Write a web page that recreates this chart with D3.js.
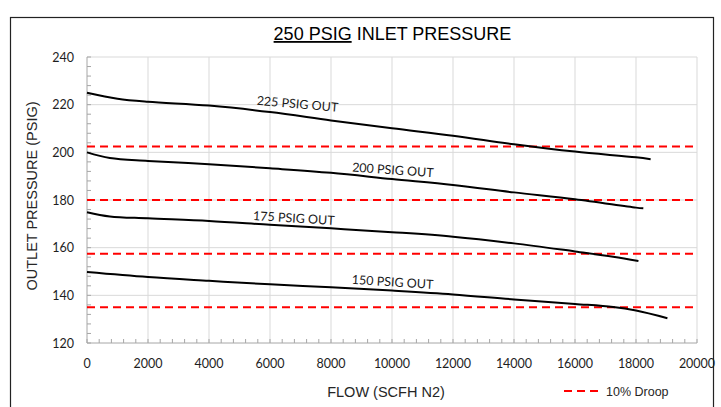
<!DOCTYPE html>
<html><head><meta charset="utf-8">
<script src="https://cdn.jsdelivr.net/npm/d3@7"></script>
<style>body{margin:0;background:#fff}svg{display:block}</style></head>
<body><svg id="c" width="721" height="407"></svg>
<script>
// ---- data ----
const flow225 = [0, 1000, 2000, 4000, 6000, 8000, 10000, 12000, 14000, 16000, 18000, 18480];
const out225  = [225, 222.5, 221.2, 219.6, 216.9, 213.4, 210.1, 207.0, 203.4, 200.3, 197.9, 197.1];
const flow200 = [0, 750, 2000, 4000, 6000, 8000, 10000, 12000, 14000, 16000, 18000, 18240];
const out200  = [200, 197.6, 196.4, 195.0, 193.3, 191.4, 188.8, 186.3, 183.2, 180.3, 176.8, 176.5];
const flow175 = [0, 750, 2000, 4000, 6000, 8000, 10000, 12000, 14000, 16000, 17250, 18080];
const out175  = [174.9, 173.1, 172.3, 171.2, 169.6, 168.1, 166.5, 164.6, 161.8, 158.4, 156.2, 154.4];
const flow150 = [0, 2000, 4000, 6000, 8000, 10000, 12000, 14000, 16000, 17250, 18000, 19030];
const out150  = [149.8, 147.7, 146.1, 144.6, 143.4, 142.0, 140.4, 138.3, 136.4, 135.1, 133.6, 130.4];
const seriesNames = ["225 PSIG OUT", "200 PSIG OUT", "175 PSIG OUT", "150 PSIG OUT"];
const droopLevels = [202.5, 180, 157.5, 135];
const labelFlow  = [6900, 10030, 6780, 10020];
const labelPress = [220.3, 192.6, 172.4, 145.6];
const labelAngle = [5, 4, 3.5, 3.5];
const xTicks = [0, 2000, 4000, 6000, 8000, 10000, 12000, 14000, 16000, 18000, 20000];
const yTicks = [120, 140, 160, 180, 200, 220, 240];
const titleUnderlined = "250 PSIG";
const titleRest = " INLET PRESSURE";
const xTitle = "FLOW (SCFH N2)";
const yTitle = "OUTLET PRESSURE (PSIG)";
const legendLabel = "10% Droop";

// ---- layout ----
const svg = d3.select("#c");
const L = 87, R = 697, T = 57, B = 343;
const x = d3.scaleLinear().domain([0, 20000]).range([L, R]);
const y = d3.scaleLinear().domain([120, 240]).range([B, T]);
const tickFont = "Lato, 'Open Sans', sans-serif";
const titleFont = "'Liberation Sans', Arial, sans-serif";

// outer border
svg.append("rect").attr("x", 10.5).attr("y", 17.5).attr("width", 703).attr("height", 420)
  .attr("fill", "none").attr("stroke", "#222").attr("stroke-width", 1.2);

// gridlines
const g = svg.append("g");
g.selectAll(".vg").data(xTicks.slice(1)).join("line")
  .attr("x1", d => x(d)).attr("x2", d => x(d)).attr("y1", T).attr("y2", B)
  .attr("stroke", "#d9d9d9").attr("stroke-width", 1);
g.selectAll(".hg").data(yTicks.slice(1)).join("line")
  .attr("x1", L).attr("x2", R).attr("y1", d => y(d)).attr("y2", d => y(d))
  .attr("stroke", "#d9d9d9").attr("stroke-width", 1);

// minor ticks
const xMinor = d3.range(0, 20001, 400);
const yMinor = d3.range(120, 241, 4);
g.selectAll(".xm").data(xMinor).join("line")
  .attr("x1", d => x(d)).attr("x2", d => x(d)).attr("y1", B).attr("y2", B - 4)
  .attr("stroke", "#a6a6a6");
g.selectAll(".ym").data(yMinor).join("line")
  .attr("x1", L).attr("x2", L + 4).attr("y1", d => y(d)).attr("y2", d => y(d))
  .attr("stroke", "#a6a6a6");

// axes lines
svg.append("line").attr("x1", L).attr("x2", R).attr("y1", B).attr("y2", B).attr("stroke", "#a6a6a6");
svg.append("line").attr("x1", L).attr("x2", L).attr("y1", T).attr("y2", B).attr("stroke", "#a6a6a6");

// tick labels
svg.selectAll(".xl").data(xTicks).join("text")
  .attr("x", d => x(d)).attr("y", 368).attr("text-anchor", "middle")
  .attr("font-family", tickFont).attr("font-size", 12.5).attr("fill", "#1e1e1e")
  .text(d => d);
svg.selectAll(".yl").data(yTicks).join("text")
  .attr("x", 74).attr("y", d => y(d) + 4.5).attr("text-anchor", "end")
  .attr("font-family", tickFont).attr("font-size", 12.5).attr("fill", "#1e1e1e")
  .text(d => d);

// droop lines
svg.selectAll(".dr").data(droopLevels).join("line")
  .attr("x1", x(0)).attr("x2", x(20000)).attr("y1", d => y(d)).attr("y2", d => y(d))
  .attr("stroke", "#ff0000").attr("stroke-width", 2).attr("stroke-dasharray", "8,5");

// curves
const flows = [flow225, flow200, flow175, flow150];
const outs = [out225, out200, out175, out150];
const line = d3.line().x(d => x(d[0])).y(d => y(d[1])).curve(d3.curveCatmullRom.alpha(0.5));
flows.forEach((f, i) => {
  svg.append("path").datum(f.map((v, j) => [v, outs[i][j]]))
    .attr("d", line).attr("fill", "none").attr("stroke", "#000").attr("stroke-width", 2);
});

// curve labels
seriesNames.forEach((n, i) => {
  const px = x(labelFlow[i]), py = y(labelPress[i]);
  svg.append("text").attr("transform", `translate(${px},${py}) rotate(${labelAngle[i]})`)
    .attr("text-anchor", "middle").attr("dy", "0.35em")
    .attr("font-family", tickFont).attr("font-size", 12.5).attr("fill", "#1a1a1a")
    .text(n);
});

// title
const t = svg.append("text").attr("x", 392.5).attr("y", 40).attr("text-anchor", "middle")
  .attr("font-family", titleFont).attr("font-size", 18).attr("fill", "#000");
t.append("tspan").attr("text-decoration", "underline").text(titleUnderlined);
t.append("tspan").text(titleRest);

// axis titles
svg.append("text").attr("x", 386).attr("y", 397).attr("text-anchor", "middle")
  .attr("font-family", titleFont).attr("font-size", 14.5).attr("fill", "#262626").text(xTitle);
svg.append("text").attr("transform", "translate(37,196) rotate(-90)").attr("text-anchor", "middle")
  .attr("font-family", titleFont).attr("font-size", 14.5).attr("fill", "#262626").text(yTitle);

// legend
svg.append("line").attr("x1", 564).attr("x2", 600).attr("y1", 391).attr("y2", 391)
  .attr("stroke", "#ff0000").attr("stroke-width", 2).attr("stroke-dasharray", "8,5");
svg.append("text").attr("x", 606).attr("y", 395.5)
  .attr("font-family", titleFont).attr("font-size", 12.5).attr("fill", "#262626").text(legendLabel);
</script></body></html>
